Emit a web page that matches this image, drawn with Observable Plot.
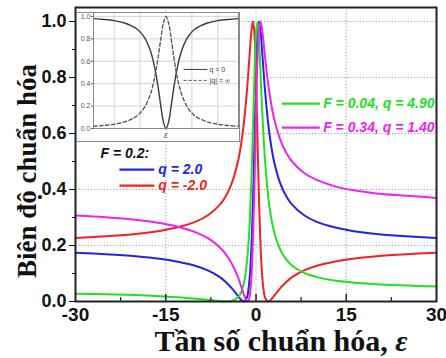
<!DOCTYPE html>
<html>
<head>
<meta charset="utf-8">
<script src="https://cdn.jsdelivr.net/npm/d3@7"></script>
<script src="https://cdn.jsdelivr.net/npm/@observablehq/plot@0.6"></script>
<style>
  body { margin: 0; background: #fff; }
  #wrap { position: relative; width: 446px; height: 358px; overflow: hidden; }
  #inset { position: absolute; left: 76px; top: 12px; }
  #inset svg { outline: 1px solid #8a8a8a; outline-offset: -1px; display: block; }
</style>
</head>
<body>
<div id="wrap"><div id="inset"></div></div>
<script>
// ---------- data ----------
const eps = [-30,-25,-20,-16,-13,-10,-8,-6,-5,-4,-3,-2.5,-2,-1.5,-1.25,-1,-0.75,-0.5,-0.25,0,0.25,0.5,0.75,1,1.25,1.5,2,2.5,3,4,5,6,8,10,13,16,20,25,30];

const seriesNames = ["F = 0.2, q = 2.0", "F = 0.2, q = -2.0", "F = 0.04, q = 4.90", "F = 0.34, q = 1.40"];
const bluePos2 = [0.174,0.169,0.162,0.153,0.142,0.127,0.111,0.087,0.069,0.047,0.020,0.007,0.000,0.015,0.044,0.100,0.200,0.360,0.577,0.800,0.953,1.000,0.968,0.900,0.824,0.754,0.640,0.559,0.500,0.424,0.377,0.346,0.308,0.285,0.265,0.252,0.241,0.233,0.227];
const redNeg2 = [0.227,0.233,0.241,0.252,0.265,0.285,0.308,0.346,0.377,0.424,0.500,0.559,0.640,0.754,0.824,0.900,0.968,1.000,0.953,0.800,0.577,0.360,0.200,0.100,0.044,0.015,0.000,0.007,0.020,0.047,0.069,0.087,0.111,0.127,0.142,0.153,0.162,0.169,0.174];
const green490 = [0.028,0.026,0.023,0.019,0.015,0.010,0.006,0.001,0.000,0.002,0.014,0.032,0.067,0.142,0.208,0.304,0.441,0.619,0.814,0.960,0.998,0.933,0.817,0.696,0.590,0.504,0.381,0.302,0.250,0.186,0.151,0.128,0.102,0.088,0.075,0.068,0.062,0.057,0.054];
const magenta140 = [0.307,0.301,0.292,0.280,0.267,0.247,0.226,0.193,0.168,0.134,0.087,0.056,0.024,0.001,0.003,0.027,0.091,0.219,0.421,0.662,0.866,0.976,1.000,0.973,0.926,0.874,0.781,0.709,0.654,0.580,0.532,0.500,0.459,0.435,0.412,0.398,0.386,0.378,0.370];

const xMajorTicks = [-30,-15,0,15,30];
const xMinorTicks = [-22.5,-7.5,7.5,22.5];
const yMajorTicks = [0,0.2,0.4,0.6,0.8,1.0];
const yMinorTicks = [0.1,0.3,0.5,0.7,0.9];

// inset data
const epsInset = [-7,-6,-5,-4,-3,-2.5,-2,-1.5,-1.25,-1,-0.75,-0.5,-0.25,0,0.25,0.5,0.75,1,1.25,1.5,2,2.5,3,4,5,6,7];
const insetQ0 = [0.980,0.973,0.962,0.941,0.900,0.862,0.800,0.692,0.610,0.500,0.360,0.200,0.059,0.000,0.059,0.200,0.360,0.500,0.610,0.692,0.800,0.862,0.900,0.941,0.962,0.973,0.980];
const insetQInf = [0.020,0.027,0.038,0.059,0.100,0.138,0.200,0.308,0.390,0.500,0.640,0.800,0.941,1.000,0.941,0.800,0.640,0.500,0.390,0.308,0.200,0.138,0.100,0.059,0.038,0.027,0.020];
const insetYTicks = [0,0.2,0.4,0.6,0.8,1.0];
const insetXGrid = [-5,-2.5,2.5,5];
const insetNames = ["q = 0", "|q| = ∞"];

// ---------- build tables ----------
const seriesValues = [bluePos2, redNeg2, green490, magenta140];
const seriesColors = ["#2222e8", "#f22222", "#22e022", "#f022f0"];
const rows = seriesValues.flatMap((vals, s) => eps.map((e, i) => ({x: e, y: vals[i], s: seriesNames[s]})));

// legend layout (positions in data units of the main chart)
const legendLines = [
  {x1: 4.3, x2: 10.6, y: 0.707, c: seriesColors[2]},
  {x1: 4.3, x2: 10.6, y: 0.621, c: seriesColors[3]},
  {x1: -22.7, x2: -16.9, y: 0.471, c: seriesColors[0]},
  {x1: -22.7, x2: -16.9, y: 0.414, c: seriesColors[1]}
];
const legendTexts = [
  {x: 11.0, y: 0.707, t: "F = 0.04, q = 4.90", c: seriesColors[2]},
  {x: 11.0, y: 0.621, t: "F = 0.34, q = 1.40", c: seriesColors[3]},
  {x: -26.0, y: 0.529, t: "F = 0.2:", c: "#111"},
  {x: -16.4, y: 0.471, t: "q = 2.0", c: seriesColors[0]},
  {x: -16.4, y: 0.414, t: "q = -2.0", c: seriesColors[1]}
];

const main = Plot.plot({
  width: 446, height: 358,
  marginLeft: 75, marginRight: 10, marginTop: 7, marginBottom: 57,
  style: {fontFamily: "'Liberation Sans', Arial, sans-serif", background: "#fff", color: "#111", overflow: "visible"},
  x: {domain: [-30, 30]},
  y: {domain: [0, 1.05]},
  color: {domain: seriesNames, range: seriesColors},
  marks: [
    Plot.gridY(yMajorTicks.slice(1), {stroke: "#9a9a9a", strokeOpacity: 1, strokeDasharray: "1.2,2"}),
    Plot.gridX(xMajorTicks.slice(1, -1), {stroke: "#9a9a9a", strokeOpacity: 1, strokeDasharray: "1.2,2"}),
    Plot.line(rows, {x: "x", y: "y", z: "s", stroke: "s", strokeWidth: 2, curve: "catmull-rom"}),
    Plot.link(legendLines, {x1: "x1", x2: "x2", y1: "y", y2: "y", stroke: "c", strokeWidth: 2.2}),
    Plot.text(legendTexts, {x: "x", y: "y", text: "t", fill: "c", textAnchor: "start", fontSize: 14, fontWeight: "bold", fontStyle: "italic", dx: 1}),
    Plot.axisY(yMinorTicks, {tickSize: 3, tickFormat: () => "", label: null}),
    Plot.axisY(yMajorTicks, {tickSize: 6, tickPadding: 3, tickFormat: d => d.toFixed(1), fontSize: 18, fontWeight: "bold", label: null}),
    Plot.axisX(xMajorTicks, {tickSize: 0, tickPadding: 6, tickFormat: d => String(d), fontSize: 19, fontWeight: "bold", label: null}),
    Plot.ruleX(xMinorTicks, {insetTop: 290, stroke: "#222", strokeWidth: 1.2}),
    Plot.ruleX(xMajorTicks.slice(1, -1), {insetTop: 287, stroke: "#222", strokeWidth: 1.5}),
    Plot.frame({stroke: "#222", strokeWidth: 2})
  ]
});

const wrap = document.getElementById("wrap");
wrap.insertBefore(main, wrap.firstChild);

// axis titles
const ms = d3.select(main);
ms.append("text")
  .attr("transform", "translate(36,171) rotate(-90)")
  .attr("text-anchor", "middle")
  .style("font-family", "'Liberation Serif', 'Times New Roman', serif")
  .style("font-weight", "bold").style("font-size", "27px").attr("fill", "#111")
  .text("Biên độ chuẩn hóa");
const xt = ms.append("text")
  .attr("x", 281).attr("y", 351)
  .attr("text-anchor", "middle")
  .style("font-family", "'Liberation Serif', 'Times New Roman', serif")
  .style("font-weight", "bold").style("font-size", "30px").attr("fill", "#111");
xt.append("tspan").text("Tần số chuẩn hóa, ");
xt.append("tspan").style("font-style", "italic").text("ε");

// ---------- inset ----------
const insetRows = [
  ...epsInset.map((e, i) => ({x: e, y: insetQ0[i], s: insetNames[0]})),
  ...epsInset.map((e, i) => ({x: e, y: insetQInf[i], s: insetNames[1]}))
];
const insetLegendLines = [
  {x1: 1.7, x2: 4.0, y: 0.527, s: insetNames[0]},
  {x1: 1.7, x2: 4.0, y: 0.429, s: insetNames[1]}
];
const insetLegendTexts = [
  {x: 4.2, y: 0.527, t: "q = 0"},
  {x: 4.2, y: 0.429, t: "|q| = ∞"}
];

const inset = Plot.plot({
  width: 164, height: 130,
  marginLeft: 17, marginRight: 2, marginTop: 0, marginBottom: 14,
  style: {fontFamily: "'Liberation Sans', Arial, sans-serif", background: "#fff", color: "#555", overflow: "visible"},
  x: {domain: [-7, 7]},
  y: {domain: [0, 1.035]},
  marks: [
    Plot.gridY(insetYTicks.slice(1), {stroke: "#d4d4d4", strokeOpacity: 1}),
    Plot.gridX(insetXGrid, {stroke: "#d4d4d4", strokeOpacity: 1}),
    Plot.line(insetRows.filter(d => d.s === insetNames[0]), {x: "x", y: "y", stroke: "#3a3a3a", strokeWidth: 1.4, curve: "catmull-rom"}),
    Plot.line(insetRows.filter(d => d.s === insetNames[1]), {x: "x", y: "y", stroke: "#5a5a5a", strokeWidth: 1.4, strokeDasharray: "3.5,2.5", curve: "catmull-rom"}),
    Plot.link(insetLegendLines.slice(0, 1), {x1: "x1", x2: "x2", y1: "y", y2: "y", stroke: "#3a3a3a", strokeWidth: 1}),
    Plot.link(insetLegendLines.slice(1), {x1: "x1", x2: "x2", y1: "y", y2: "y", stroke: "#5a5a5a", strokeWidth: 1, strokeDasharray: "3,2"}),
    Plot.text(insetLegendTexts, {x: "x", y: "y", text: "t", textAnchor: "start", fontSize: 7, fill: "#444"}),
    Plot.axisY(insetYTicks, {tickSize: 2, tickPadding: 1, tickFormat: d => d.toFixed(1), fontSize: 7, label: null}),
    Plot.axisX([0], {tickSize: 2, tickPadding: 1, tickFormat: () => "ε", fontSize: 9, fontStyle: "italic", label: null}),
    Plot.frame({stroke: "#888", strokeWidth: 1})
  ]
});
document.getElementById("inset").appendChild(inset);
</script>
</body>
</html>
